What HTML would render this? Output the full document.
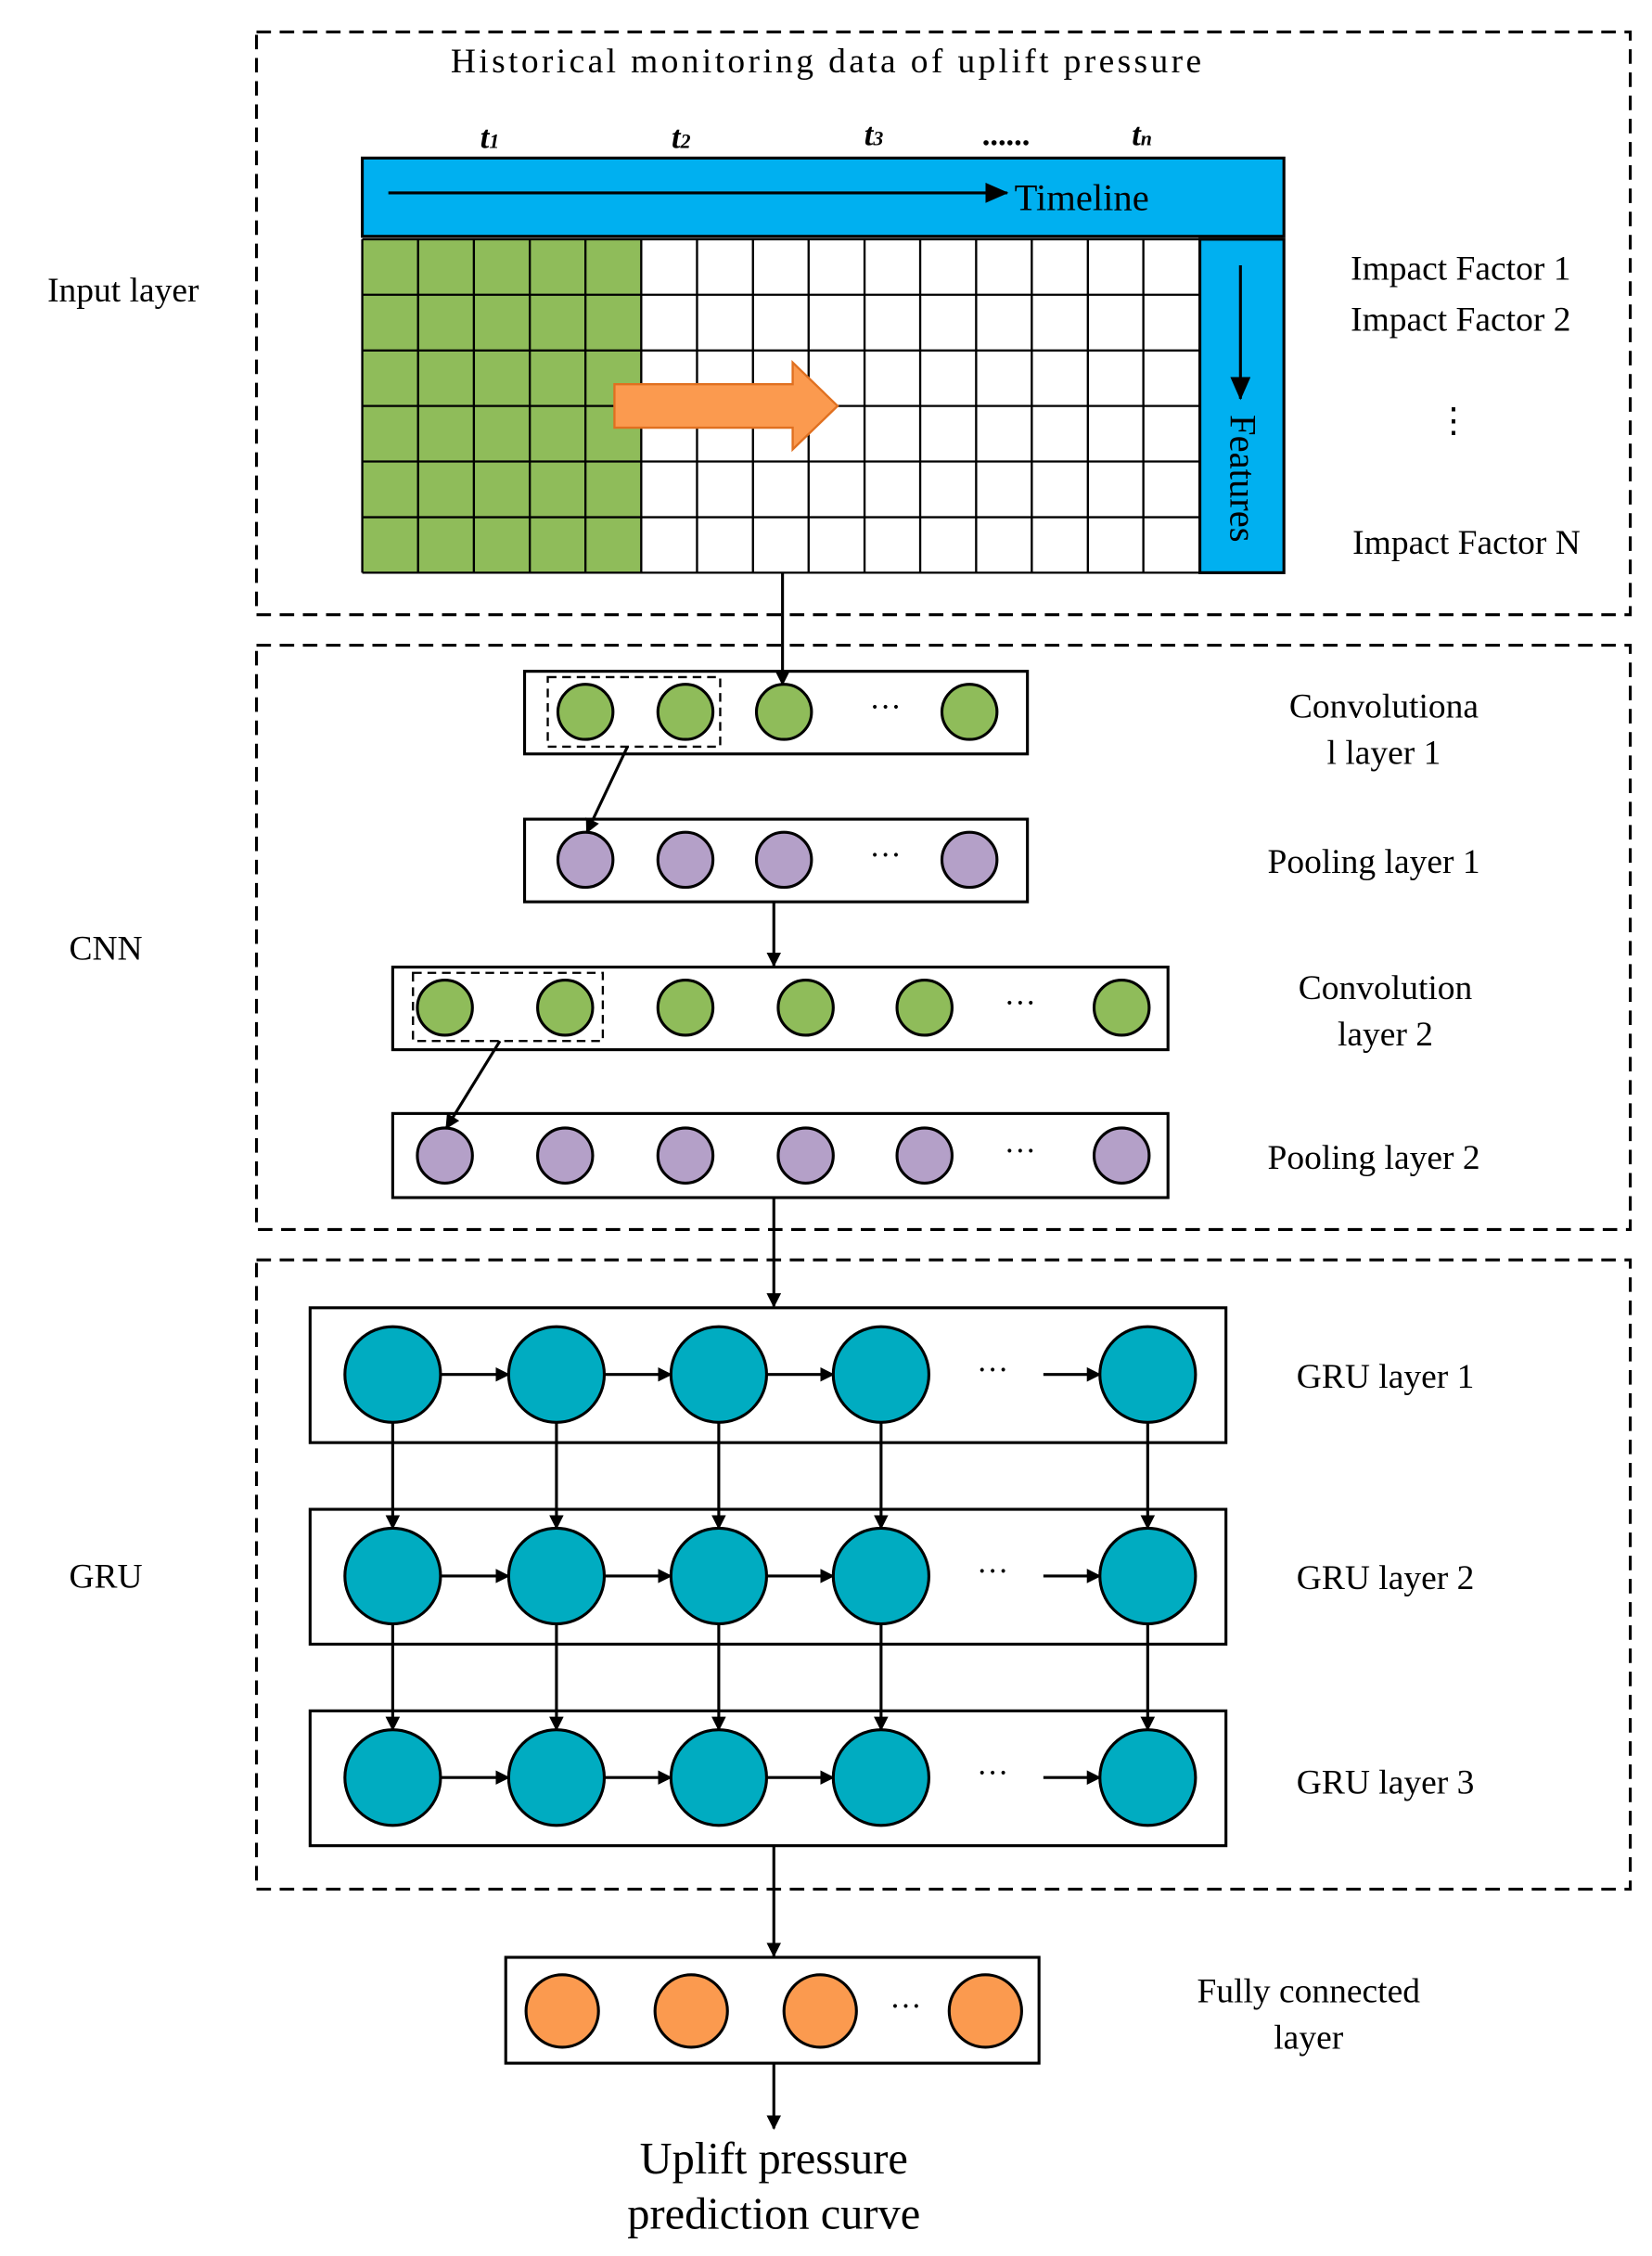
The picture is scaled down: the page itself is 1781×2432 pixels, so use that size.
<!DOCTYPE html>
<html><head><meta charset="utf-8"><style>
html,body{margin:0;padding:0;background:#fff}
svg{display:block}
text{font-family:"Liberation Serif",serif;fill:#000}
</style></head><body>
<svg width="1781" height="2432" viewBox="0 0 1140 1556" preserveAspectRatio="none" xmlns="http://www.w3.org/2000/svg">
<defs>
<marker id="a" markerWidth="10" markerHeight="10" refX="9" refY="5" orient="auto" markerUnits="userSpaceOnUse"><path d="M0,0 L10,5 L0,10 z" fill="#000"/></marker>
<marker id="b" markerWidth="16" markerHeight="14" refX="15" refY="7" orient="auto" markerUnits="userSpaceOnUse"><path d="M0,0 L16,7 L0,14 z" fill="#000"/></marker>
</defs>
<g fill="none" stroke="#000" stroke-width="2" stroke-dasharray="10,6">
<rect x="177" y="22" width="948" height="402"/>
<rect x="177" y="445" width="948" height="403"/>
<rect x="177" y="869" width="948" height="434"/>
</g>
<text x="570" y="50" font-size="24" text-anchor="middle" textLength="518">Historical monitoring data of uplift pressure</text>
<g font-size="22" font-style="italic" font-weight="bold" text-anchor="middle">
<text x="338" y="102">t<tspan font-size="14">1</tspan></text>
<text x="470" y="102">t<tspan font-size="14">2</tspan></text>
<text x="603" y="100">t<tspan font-size="14">3</tspan></text>
<text x="695" y="100">......</text>
<text x="788" y="100">t<tspan font-size="14">n</tspan></text>
</g>
<rect x="250" y="109" width="636" height="54" fill="#00b0f0" stroke="#000" stroke-width="2"/>
<line x1="268" y1="133" x2="695" y2="133" stroke="#000" stroke-width="2" marker-end="url(#b)"/>
<text x="700" y="145" font-size="26">Timeline</text>
<rect x="250" y="165" width="192" height="230" fill="#8fbc5a"/>
<g stroke="#000" stroke-width="1.5">
<path d="M250,165 H828 M250,203.3 H828 M250,241.7 H828 M250,280 H828 M250,318.3 H828 M250,356.7 H828 M250,395 H828"/>
<path d="M250,165V395 M288.5,165V395 M327,165V395 M365.6,165V395 M404,165V395 M442.5,165V395 M481,165V395 M519.6,165V395 M558,165V395 M596.6,165V395 M635,165V395 M673.6,165V395 M712,165V395 M750.7,165V395 M789,165V395 M828,165V395"/>
</g>
<rect x="828" y="165" width="58" height="230" fill="#00b0f0" stroke="#000" stroke-width="2"/>
<line x1="856" y1="183" x2="856" y2="275" stroke="#000" stroke-width="2" marker-end="url(#b)"/>
<text x="0" y="0" font-size="26" transform="translate(849,286) rotate(90)">Features</text>
<path d="M424,265 H547 V250 L578,280 L547,310 V295 H424 z" fill="#fb9a4f" stroke="#e07020" stroke-width="1.5"/>
<g font-size="24" text-anchor="middle">
<text x="1008" y="193">Impact Factor 1</text>
<text x="1008" y="228">Impact Factor 2</text>
<text x="1003" y="298">⋮</text>
<text x="1012" y="382">Impact Factor N</text>
<text x="85" y="208">Input layer</text>
<text x="73" y="662">CNN</text>
<text x="73" y="1095">GRU</text>
<text x="955" y="495">Convolutiona</text>
<text x="955" y="527">l layer 1</text>
<text x="948" y="602">Pooling layer 1</text>
<text x="956" y="689">Convolution</text>
<text x="956" y="721">layer 2</text>
<text x="948" y="806">Pooling layer 2</text>
<text x="956" y="957">GRU layer 1</text>
<text x="956" y="1096">GRU layer 2</text>
<text x="956" y="1237">GRU layer 3</text>
<text x="903" y="1381">Fully connected</text>
<text x="903" y="1413">layer</text>
</g>
<g font-size="31" text-anchor="middle">
<text x="534" y="1499">Uplift pressure</text>
<text x="534" y="1537">prediction curve</text>
</g>
<g fill="#fff" stroke="#000" stroke-width="2">
<rect x="362" y="463" width="347" height="57"/>
<rect x="362" y="565" width="347" height="57"/>
<rect x="271" y="667" width="535" height="57"/>
<rect x="271" y="768" width="535" height="58"/>
<rect x="214" y="902" width="632" height="93"/>
<rect x="214" y="1041" width="632" height="93"/>
<rect x="214" y="1180" width="632" height="93"/>
<rect x="349" y="1350" width="368" height="73"/>
</g>
<g fill="none" stroke="#000" stroke-width="1.5" stroke-dasharray="6,4">
<rect x="378" y="467" width="119" height="48"/>
<rect x="285" y="671" width="131" height="47"/>
</g>
<g fill="#8fbc5a" stroke="#000" stroke-width="2">
<circle cx="404" cy="491" r="19"/><circle cx="473" cy="491" r="19"/><circle cx="541" cy="491" r="19"/><circle cx="669" cy="491" r="19"/>
<circle cx="307" cy="695" r="19"/><circle cx="390" cy="695" r="19"/><circle cx="473" cy="695" r="19"/><circle cx="556" cy="695" r="19"/><circle cx="638" cy="695" r="19"/><circle cx="774" cy="695" r="19"/>
</g>
<g fill="#b4a0c8" stroke="#000" stroke-width="2">
<circle cx="404" cy="593" r="19"/><circle cx="473" cy="593" r="19"/><circle cx="541" cy="593" r="19"/><circle cx="669" cy="593" r="19"/>
<circle cx="307" cy="797" r="19"/><circle cx="390" cy="797" r="19"/><circle cx="473" cy="797" r="19"/><circle cx="556" cy="797" r="19"/><circle cx="638" cy="797" r="19"/><circle cx="774" cy="797" r="19"/>
</g>
<g font-size="22" text-anchor="middle">
<text x="611" y="597">···</text><text x="611" y="495">···</text>
<text x="704" y="699">···</text><text x="704" y="801">···</text>
<text x="685" y="952">···</text><text x="685" y="1091">···</text><text x="685" y="1230">···</text>
<text x="625" y="1391">···</text>
</g>
<g fill="#00acc1" stroke="#000" stroke-width="2">
<circle cx="271" cy="948" r="33"/><circle cx="384" cy="948" r="33"/><circle cx="496" cy="948" r="33"/><circle cx="608" cy="948" r="33"/><circle cx="792" cy="948" r="33"/>
<circle cx="271" cy="1087" r="33"/><circle cx="384" cy="1087" r="33"/><circle cx="496" cy="1087" r="33"/><circle cx="608" cy="1087" r="33"/><circle cx="792" cy="1087" r="33"/>
<circle cx="271" cy="1226" r="33"/><circle cx="384" cy="1226" r="33"/><circle cx="496" cy="1226" r="33"/><circle cx="608" cy="1226" r="33"/><circle cx="792" cy="1226" r="33"/>
</g>
<g fill="#fb9a4f" stroke="#000" stroke-width="2">
<circle cx="388" cy="1387" r="25"/><circle cx="477" cy="1387" r="25"/><circle cx="566" cy="1387" r="25"/><circle cx="680" cy="1387" r="25"/>
</g>
<g stroke="#000" stroke-width="2" fill="none" marker-end="url(#a)">
<line x1="540" y1="395" x2="540" y2="472"/>
<line x1="433" y1="515" x2="405" y2="574"/>
<line x1="534" y1="622" x2="534" y2="666"/>
<line x1="345" y1="718" x2="308" y2="778"/>
<line x1="534" y1="826" x2="534" y2="901"/>
<line x1="534" y1="1273" x2="534" y2="1349"/>
<line x1="534" y1="1423" x2="534" y2="1468"/>
<line x1="304" y1="948" x2="351" y2="948"/><line x1="417" y1="948" x2="463" y2="948"/><line x1="529" y1="948" x2="575" y2="948"/><line x1="720" y1="948" x2="759" y2="948"/>
<line x1="304" y1="1087" x2="351" y2="1087"/><line x1="417" y1="1087" x2="463" y2="1087"/><line x1="529" y1="1087" x2="575" y2="1087"/><line x1="720" y1="1087" x2="759" y2="1087"/>
<line x1="304" y1="1226" x2="351" y2="1226"/><line x1="417" y1="1226" x2="463" y2="1226"/><line x1="529" y1="1226" x2="575" y2="1226"/><line x1="720" y1="1226" x2="759" y2="1226"/>
<line x1="271" y1="981" x2="271" y2="1054"/><line x1="384" y1="981" x2="384" y2="1054"/><line x1="496" y1="981" x2="496" y2="1054"/><line x1="608" y1="981" x2="608" y2="1054"/><line x1="792" y1="981" x2="792" y2="1054"/>
<line x1="271" y1="1120" x2="271" y2="1193"/><line x1="384" y1="1120" x2="384" y2="1193"/><line x1="496" y1="1120" x2="496" y2="1193"/><line x1="608" y1="1120" x2="608" y2="1193"/><line x1="792" y1="1120" x2="792" y2="1193"/>
</g>
</svg>
</body></html>
